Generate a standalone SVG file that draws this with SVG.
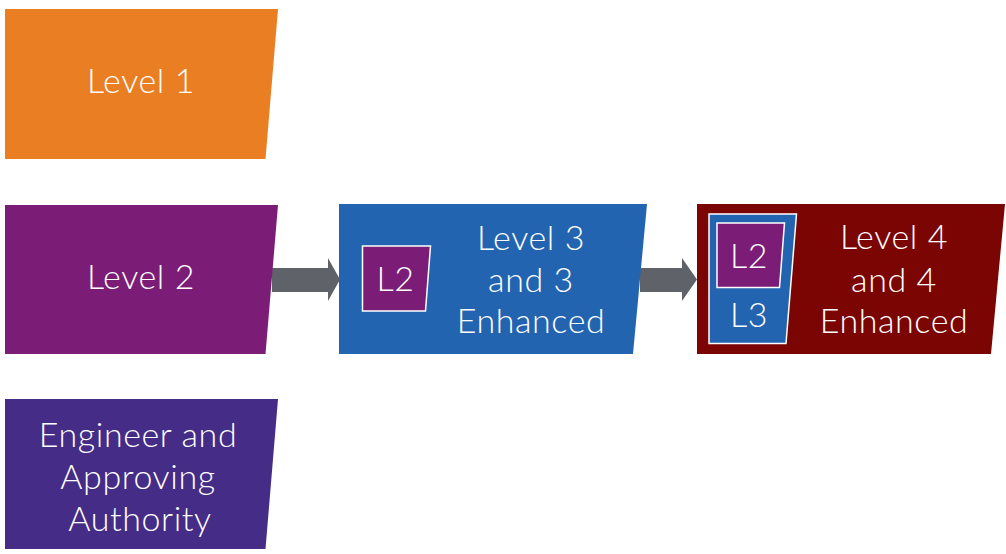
<svg xmlns="http://www.w3.org/2000/svg" width="1006" height="554" viewBox="0 0 1006 554">
  <style>
    .lbl { font-family: Lato, "Open Sans", "Liberation Sans", sans-serif; font-weight: 300; font-size: 34px; letter-spacing: 0.6px; fill: #ffffff; text-anchor: middle; }
    .inner { stroke: #ffffff; stroke-width: 1.5; }
  </style>
  <rect width="1006" height="554" fill="#ffffff"/>

  <!-- connectors -->
  <g id="connectors" fill="#5f6369">
    <polygon points="272,268 328,268 328,258 340,279.5 328,301 328,292 272,292"/>
    <polygon points="640,268 682,268 682,258 697,279.5 682,301 682,292 640,292"/>
  </g>

  <g id="level1">
    <polygon points="5,9 278,9 265.5,159 5,159" fill="#ea7e23"/>
    <text class="lbl" x="141" y="93">Level 1</text>
  </g>

  <g id="level2">
    <polygon points="5,205 278,205 265.5,354 5,354" fill="#7b1c76"/>
    <text class="lbl" x="141" y="289">Level 2</text>
  </g>

  <g id="engineer">
    <polygon points="5,399 278,399 265.5,549 5,549" fill="#452c86"/>
    <text class="lbl" x="138" y="447">Engineer and</text>
    <text class="lbl" x="138" y="489">Approving</text>
    <text class="lbl" x="140" y="531">Authority</text>
  </g>

  <g id="level3">
    <polygon points="339,204 647,204 633,354 339,354" fill="#2364b1"/>
    <polygon class="inner" points="362.5,246 430.5,246 425.5,311 362.5,311" fill="#7b1c76"/>
    <text class="lbl" x="395.5" y="291">L2</text>
    <text class="lbl" x="531" y="250">Level 3</text>
    <text class="lbl" x="531" y="292">and 3</text>
    <text class="lbl" x="531" y="333">Enhanced</text>
  </g>

  <g id="level4">
    <polygon points="697,204 1005,204 991,354 697,354" fill="#7a0502"/>
    <polygon class="inner" points="709,214 796.5,214 786,343.5 709,343.5" fill="#2364b1"/>
    <polygon class="inner" points="717,223 784.5,223 779.5,287.5 717,287.5" fill="#7b1c76"/>
    <text class="lbl" x="749" y="268">L2</text>
    <text class="lbl" x="749" y="327">L3</text>
    <text class="lbl" x="894" y="249">Level 4</text>
    <text class="lbl" x="894" y="292">and 4</text>
    <text class="lbl" x="894" y="333">Enhanced</text>
  </g>
</svg>
